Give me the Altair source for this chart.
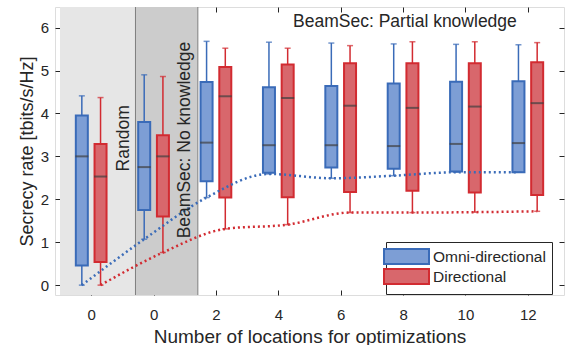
import altair as alt
import pandas as pd

categories = ["0", "0", "2", "4", "6", "8", "10", "12"]
series_names = ["Omni-directional", "Directional"]

omni_min = [0.00, 1.07, 2.04, 2.59, 2.49, 2.55, 2.63, 2.63]
omni_q1 = [0.46, 1.75, 2.42, 2.62, 2.74, 2.71, 2.65, 2.63]
omni_med = [3.00, 2.75, 3.32, 3.26, 3.26, 3.24, 3.29, 3.31]
omni_q3 = [3.95, 3.80, 4.73, 4.61, 4.64, 4.70, 4.74, 4.75]
omni_max = [4.41, 4.90, 5.68, 5.66, 5.64, 5.62, 5.61, 5.60]

dir_min = [0.00, 0.76, 1.31, 1.41, 1.69, 1.69, 1.70, 1.72]
dir_q1 = [0.54, 1.60, 2.04, 2.05, 2.17, 2.20, 2.16, 2.10]
dir_med = [2.53, 3.00, 4.40, 4.36, 4.18, 4.13, 4.16, 4.24]
dir_q3 = [3.29, 3.49, 5.08, 5.14, 5.17, 5.17, 5.17, 5.19]
dir_max = [4.37, 4.86, 5.52, 5.52, 5.58, 5.67, 5.67, 5.65]

region_labels = ["Random", "BeamSec: No knowledge"]
region_edges = [-0.5, 0.71, 1.71]
region_fills = ["#e6e6e6", "#cccccc"]
region_label_x = [0.607, 1.583]
region_label_y = [3.42, 3.38]
partial_label = ["BeamSec: Partial knowledge"]
partial_x = [5.03]
partial_y = [6.01]

FONT = "Liberation Sans"
INK = "#262626"
W, H = 509, 288
BLUE_FILL, RED_FILL = "#7d9ed5", "#d8676c"
BLUE_LINE, RED_LINE = "#3a6bb8", "#d22b31"

rows = []
for i, c in enumerate(categories):
    rows.append({"idx": i, "cat": c, "series": series_names[0], "lo": omni_min[i],
                 "q1": omni_q1[i], "med": omni_med[i], "q3": omni_q3[i], "hi": omni_max[i]})
    rows.append({"idx": i, "cat": c, "series": series_names[1], "lo": dir_min[i],
                 "q1": dir_q1[i], "med": dir_med[i], "q3": dir_q3[i], "hi": dir_max[i]})
df = pd.DataFrame(rows)

reg_df = pd.DataFrame({"x0": region_edges[:-1], "x1": region_edges[1:],
                       "fill": region_fills, "label": region_labels,
                       "lx": region_label_x, "ly": region_label_y})
part_df = pd.DataFrame({"label": partial_label, "lx": partial_x, "ly": partial_y})

xscale = alt.Scale(domain=[-0.5, 7.5], nice=False, zero=False)
yscale = alt.Scale(domain=[-0.23, 6.48], nice=False, zero=False)
fill_scale = alt.Scale(domain=series_names, range=[BLUE_FILL, RED_FILL])
stroke_scale = alt.Scale(domain=series_names, range=[BLUE_LINE, RED_LINE])

label_expr = "[" + ",".join("'%s'" % c for c in categories) + "][datum.value]"
tick_vals = list(range(len(categories)))

x_bottom = alt.Axis(values=tick_vals, labelExpr=label_expr,
                    title="Number of locations for optimizations",
                    offset=-5, tickSize=5, domain=False, grid=False,
                    labelPadding=12, titlePadding=5, labelFontSize=15, titleFontSize=19,
                    titleFontWeight="normal", labelFont=FONT, titleFont=FONT,
                    labelColor=INK, titleColor=INK, tickColor=INK)
y_left = alt.Axis(values=[0, 1, 2, 3, 4, 5, 6], title="Secrecy rate [tbits/s/Hz]",
                  offset=-5, tickSize=5, domain=False, grid=False,
                  labelPadding=6.5, titlePadding=4, labelFontSize=15, titleFontSize=18,
                  titleFontWeight="normal", labelFont=FONT, titleFont=FONT,
                  labelColor=INK, titleColor=INK, tickColor=INK)
x_top = alt.Axis(orient="top", values=tick_vals, labels=False, offset=-5, tickSize=5,
                 domain=False, grid=False, title=None, tickColor=INK)
y_right = alt.Axis(orient="right", values=[0, 1, 2, 3, 4, 5, 6], labels=False, offset=-5,
                   tickSize=5, domain=False, grid=False, title=None, tickColor=INK)

leg = alt.Legend(title=None, orient="none", legendX=331, legendY=235,
                 symbolType="M-3,-1H3V1H-3Z", symbolSize=225, symbolStrokeWidth=2,
                 symbolOpacity=1, labelFontSize=15.5, labelFont=FONT, labelColor=INK,
                 padding=6, strokeColor=INK, fillColor="white",
                 symbolOffset=6, labelOffset=18, rowPadding=-7)

base = alt.Chart(df).transform_calculate(
    pos="datum.idx + (datum.series == '%s' ? -0.15 : 0.15)" % series_names[0],
    col="datum.series == '%s' ? '%s' : '%s'" % (series_names[0], BLUE_LINE, RED_LINE),
)

bg = alt.Chart(reg_df).mark_rect().encode(
    x=alt.X("x0:Q", scale=xscale, axis=None),
    x2="x1:Q",
    y=alt.value(0), y2=alt.value(H),
    fill=alt.Fill("fill:N", scale=None),
)
edges = alt.Chart(reg_df).mark_rule(color="#7f7f7f", strokeWidth=1).encode(
    x=alt.X("x1:Q", scale=xscale, axis=None),
    y=alt.value(0), y2=alt.value(H),
)

whisk_lo = base.mark_rule(strokeWidth=1.5).encode(
    x=alt.X("pos:Q", scale=xscale, axis=None),
    y=alt.Y("lo:Q", scale=yscale, axis=None), y2="q1:Q",
    stroke=alt.Stroke("col:N", scale=None),
)
whisk_hi = base.mark_rule(strokeWidth=1.5).encode(
    x=alt.X("pos:Q", scale=xscale, axis=None),
    y=alt.Y("q3:Q", scale=yscale, axis=None), y2="hi:Q",
    stroke=alt.Stroke("col:N", scale=None),
)
cap_lo = base.mark_tick(orient="horizontal", size=6, thickness=1.5).encode(
    x=alt.X("pos:Q", scale=xscale, axis=None),
    y=alt.Y("lo:Q", scale=yscale, axis=None),
    color=alt.Color("col:N", scale=None),
)
cap_hi = base.mark_tick(orient="horizontal", size=6, thickness=1.5).encode(
    x=alt.X("pos:Q", scale=xscale, axis=None),
    y=alt.Y("hi:Q", scale=yscale, axis=None),
    color=alt.Color("col:N", scale=None),
)
boxes = base.mark_bar(size=12, strokeWidth=2, opacity=1).encode(
    x=alt.X("pos:Q", scale=xscale, axis=x_bottom),
    y=alt.Y("q1:Q", scale=yscale, axis=y_left), y2="q3:Q",
    fill=alt.Fill("series:N", scale=fill_scale, legend=leg),
    stroke=alt.Stroke("series:N", scale=stroke_scale, legend=leg),
)
medians = base.mark_tick(orient="horizontal", size=13, thickness=2, color="#404040").encode(
    x=alt.X("pos:Q", scale=xscale, axis=x_top),
    y=alt.Y("med:Q", scale=yscale, axis=y_right),
)
lines = base.mark_line(interpolate="monotone", strokeDash=[2, 3], strokeWidth=2.5).encode(
    x=alt.X("pos:Q", scale=xscale, axis=None),
    y=alt.Y("lo:Q", scale=yscale, axis=None),
    stroke=alt.Stroke("col:N", scale=None),
    detail="series:N",
)
reg_text = alt.Chart(reg_df).mark_text(angle=270, align="center", baseline="alphabetic",
                                        font=FONT, fontSize=17.5, color=INK).encode(
    x=alt.X("lx:Q", scale=xscale, axis=None),
    y=alt.Y("ly:Q", scale=yscale, axis=None),
    text="label:N",
)
part_text = alt.Chart(part_df).mark_text(align="center", baseline="alphabetic",
                                          font=FONT, fontSize=17.5, color=INK).encode(
    x=alt.X("lx:Q", scale=xscale, axis=None),
    y=alt.Y("ly:Q", scale=yscale, axis=None),
    text="label:N",
)

chart = alt.layer(
    bg, edges, boxes, whisk_lo, whisk_hi, cap_lo, cap_hi, medians, lines, reg_text, part_text
).resolve_axis(x="independent", y="independent").properties(
    width=W, height=H,
    padding={"left": 55, "top": 7, "right": 7, "bottom": 50},
    autosize=alt.AutoSizeParams(type="none"),
).configure_view(stroke=INK, strokeWidth=1).configure(background="white")

chart.save("out.html", embed_options={"renderer": "svg", "actions": False})
